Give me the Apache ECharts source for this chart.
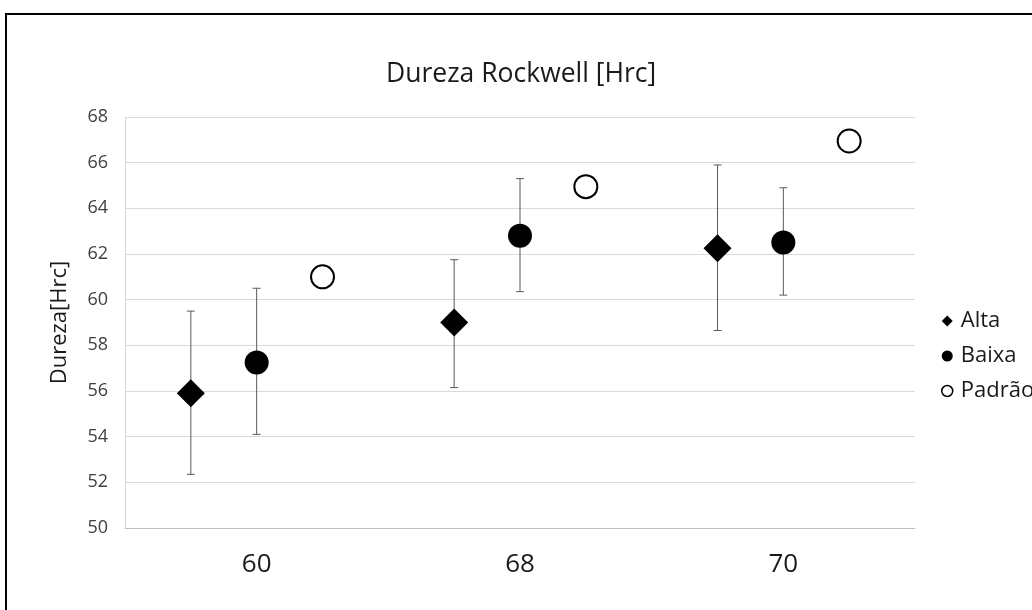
<!DOCTYPE html>
<html>
<head>
<meta charset="utf-8">
<script src="https://cdn.jsdelivr.net/npm/echarts@6/dist/echarts.min.js"></script>
<style>
html,body{margin:0;padding:0;background:#fff;width:1032px;height:610px;overflow:hidden;}
#frame{position:absolute;left:5px;top:13px;width:1040px;height:620px;border:2px solid #000;box-sizing:border-box;}
#chart{position:absolute;left:0;top:0;width:1032px;height:610px;}
</style>
</head>
<body>
<div id="frame"></div>
<div id="chart"></div>
<script>
const categories = ['60', '68', '70'];
const alta = [55.9, 59.0, 62.25];
const altaLow = [52.35, 56.15, 58.65];
const altaHigh = [59.5, 61.75, 65.9];
const baixa = [57.25, 62.8, 62.5];
const baixaLow = [54.1, 60.35, 60.2];
const baixaHigh = [60.5, 65.3, 64.9];
const padrao = [61.0, 64.95, 66.95];
const yTicks = [50, 52, 54, 56, 58, 60, 62, 64, 66, 68];

const offsets = { Alta: -0.25, Baixa: 0, 'Padrão': 0.25 };
const pts = (vals, off) => vals.map((v, i) => [i + 0.5 + off, v]);
const errs = (lo, hi, off) => lo.map((l, i) => [i + 0.5 + off, l, hi[i]]);

const FONT = '"Open Sans", "Noto Sans", sans-serif';

function errItem(params, api) {
  const x = api.value(0);
  const p1 = api.coord([x, api.value(1)]);
  const p2 = api.coord([x, api.value(2)]);
  const w = 4;
  const style = { stroke: '#595959', lineWidth: 1 };
  return {
    type: 'group',
    children: [
      { type: 'line', shape: { x1: p1[0], y1: p1[1], x2: p2[0], y2: p2[1] }, style },
      { type: 'line', shape: { x1: p1[0] - w, y1: p1[1], x2: p1[0] + w, y2: p1[1] }, style },
      { type: 'line', shape: { x1: p2[0] - w, y1: p2[1], x2: p2[0] + w, y2: p2[1] }, style }
    ]
  };
}

const chart = echarts.init(document.getElementById('chart'), null, { renderer: 'canvas' });
chart.setOption({
  animation: false,
  backgroundColor: 'transparent',
  title: {
    text: 'Dureza Rockwell [Hrc]',
    left: 381,
    top: 54,
    textStyle: { fontFamily: FONT, fontSize: 26.5, fontWeight: 'normal', color: '#1a1a1a', lineHeight: 30 }
  },
  legend: {
    orient: 'vertical',
    left: 936,
    top: 304,
    itemWidth: 11,
    itemHeight: 11,
    itemGap: 11,
    textStyle: { fontFamily: FONT, fontSize: 22, color: '#1a1a1a', lineHeight: 24, padding: [0, 0, 0, 3] },
    data: [
      { name: 'Alta', icon: 'diamond', itemStyle: { color: '#000', borderWidth: 0 } },
      { name: 'Baixa', icon: 'circle', itemStyle: { color: '#000', borderWidth: 0 } },
      { name: 'Padrão', icon: 'circle', itemStyle: { color: '#fff', borderColor: '#000', borderWidth: 1.5 } }
    ]
  },
  grid: { left: 125, right: 117, top: 117, bottom: 82 },
  xAxis: {
    type: 'value',
    min: 0,
    max: 3,
    interval: 0.5,
    axisLine: { show: true, lineStyle: { color: '#bfbfbf', width: 1 } },
    axisTick: { show: false },
    splitLine: { show: false },
    axisLabel: {
      margin: 24,
      fontFamily: FONT,
      fontSize: 26,
      color: '#1a1a1a',
      showMinLabel: true,
      showMaxLabel: true,
      formatter: v => {
        const i = Math.round(v - 0.5);
        return Math.abs(v - (i + 0.5)) < 1e-6 && categories[i] ? categories[i] : '';
      }
    }
  },
  yAxis: {
    type: 'value',
    min: yTicks[0],
    max: yTicks[yTicks.length - 1],
    interval: 2,
    name: 'Dureza[Hrc]',
    nameLocation: 'middle',
    nameGap: 54,
    nameTextStyle: { fontFamily: FONT, fontSize: 22, color: '#1a1a1a' },
    axisLine: { show: true, lineStyle: { color: '#d9d9d9', width: 1 } },
    axisTick: { show: false },
    splitLine: { show: true, lineStyle: { color: '#d9d9d9', width: 1 } },
    axisLabel: { margin: 17, fontFamily: FONT, fontSize: 18, color: '#404040' }
  },
  series: [
    {
      name: 'AltaErr', type: 'custom', renderItem: errItem, z: 1, silent: true,
      data: errs(altaLow, altaHigh, offsets.Alta), encode: { x: 0, y: [1, 2] }
    },
    {
      name: 'BaixaErr', type: 'custom', renderItem: errItem, z: 1, silent: true,
      data: errs(baixaLow, baixaHigh, offsets.Baixa), encode: { x: 0, y: [1, 2] }
    },
    {
      name: 'Alta', type: 'scatter', symbol: 'diamond', symbolSize: [28, 28], z: 3,
      itemStyle: { color: '#000', opacity: 1 },
      data: pts(alta, offsets.Alta)
    },
    {
      name: 'Baixa', type: 'scatter', symbol: 'circle', symbolSize: 24, z: 3,
      itemStyle: { color: '#000', opacity: 1 },
      data: pts(baixa, offsets.Baixa)
    },
    {
      name: 'Padrão', type: 'scatter', symbol: 'circle', symbolSize: 23, z: 3,
      itemStyle: { color: '#fff', borderColor: '#000', borderWidth: 2, opacity: 1 },
      data: pts(padrao, offsets['Padrão'])
    }
  ]
});
</script>
</body>
</html>
